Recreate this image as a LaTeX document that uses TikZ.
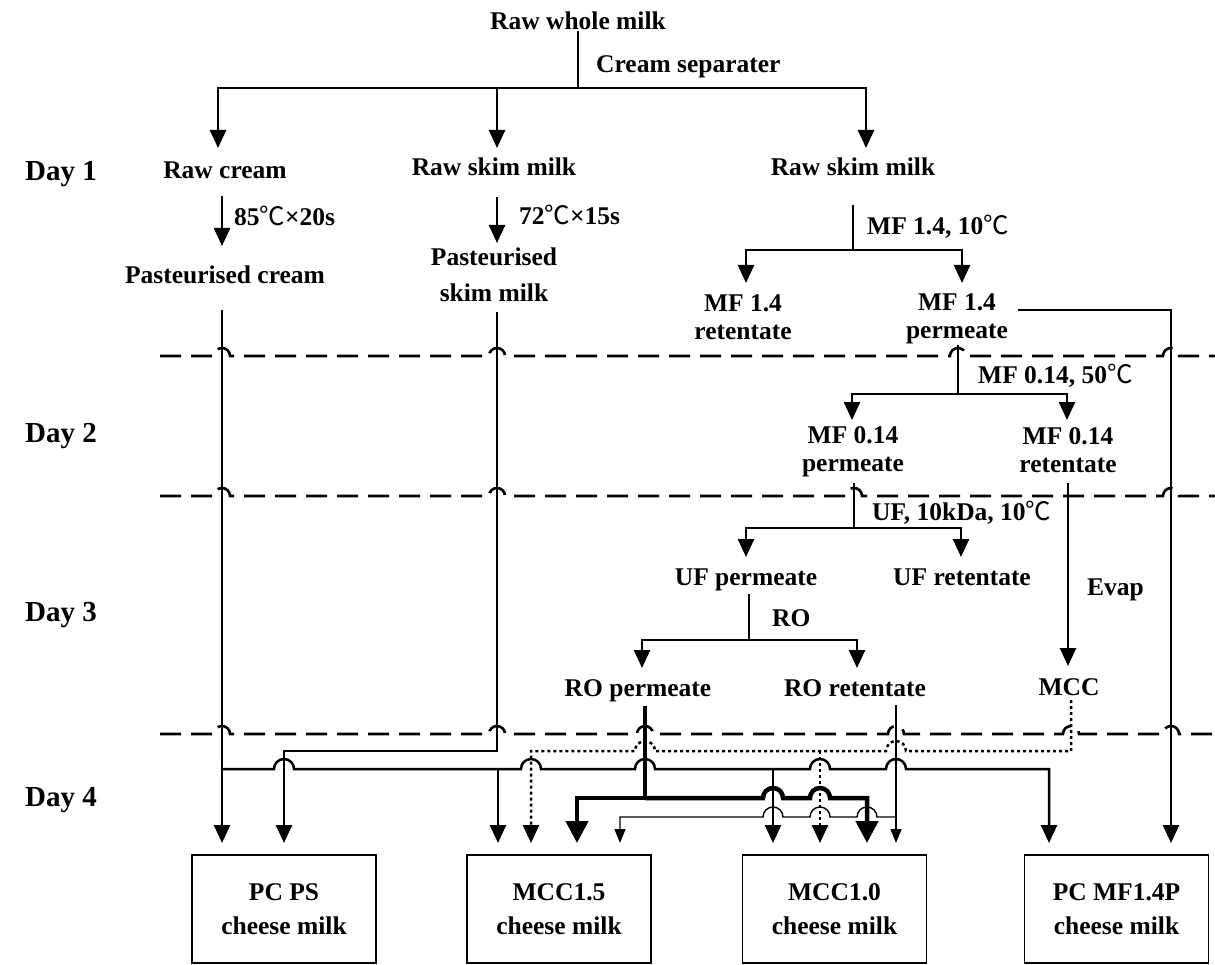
\documentclass[tikz,border=0pt]{standalone}
\usepackage{fontspec}
\setmainfont{Liberation Serif}
\newfontfamily\cjkfont{Noto Sans CJK SC}
\usetikzlibrary{arrows.meta}
\newcommand{\dC}{{\cjkfont\mdseries ℃}}
% hop over a vertical line at x=#1 on a horizontal line at y=#2
\newcommand{\hopR}[2]{-- ({#1-10},#2) arc[start angle=180,end angle=0,radius=10]}
\newcommand{\hopL}[2]{-- ({#1+10},#2) arc[start angle=0,end angle=180,radius=10]}
\newcommand{\hopD}[2]{-- ({#1-8},#2) arc[start angle=180,end angle=0,radius=8]}
\begin{document}
\begin{tikzpicture}[x=1pt,y=1pt,
  font=\fontsize{25.5}{28}\selectfont\bfseries,
  lbl/.style={inner sep=0pt,anchor=base},
  day/.style={inner sep=0pt,anchor=base west,font=\fontsize{29}{32}\selectfont\bfseries},
  ml/.style={inner sep=0pt,align=center},
  ln/.style={line width=2.5pt},
  ar/.style={ln,-{Triangle[width=16pt,length=18pt]}},
  bln/.style={line width=4.5pt},
  bar/.style={bln,-{Triangle[width=22pt,length=22pt]}},
  tln/.style={line width=1.4pt},
  tar/.style={tln,-{Triangle[width=11pt,length=14pt]}},
  dotar/.style={ar,dash pattern=on 3pt off 3pt},
  dsh/.style={line width=2.6pt,dash pattern=on 21pt off 10pt},
  cbox/.style={draw,line width=1.1pt,minimum width=184pt,minimum height=108pt,
    align=center,inner sep=0pt,font=\fontsize{25.5}{34}\selectfont\bfseries}]

\useasboundingbox (0,0) rectangle (1215,-965);

% ---------- text nodes ----------
\node[lbl] (rwm) at (578,-30) {Raw whole milk};
\node[lbl,anchor=base west] (cs) at (596,-73) {Cream separater};
\node[day] (d1) at (25,-181) {Day 1};
\node[day] (d2) at (25,-442) {Day 2};
\node[day] (d3) at (25,-621) {Day 3};
\node[day] (d4) at (25,-806) {Day 4};
\node[lbl] (rc) at (225,-179) {Raw cream};
\node[lbl] (rsm1) at (494,-176) {Raw skim milk};
\node[lbl] (rsm2) at (853,-176) {Raw skim milk};
\node[lbl,anchor=base west] (h85) at (234,-226) {85\dC×20s};
\node[lbl] (pcr) at (225,-284) {Pasteurised cream};
\node[lbl,anchor=base west] (h72) at (519,-225) {72\dC×15s};
\node[ml] (psm) at (494,-275) {Pasteurised\\[8pt]skim milk};
\node[lbl,anchor=base west] (mf14) at (867,-235) {MF 1.4, 10\dC};
\node[ml] (m14r) at (743,-317) {MF 1.4\\retentate};
\node[ml] (m14p) at (957,-319) {MF 1.4\\permeate};
\node[lbl,anchor=base west] (mf014) at (978,-383) {MF 0.14, 50\dC};
\node[ml] (m014p) at (853,-452) {MF 0.14\\permeate};
\node[ml] (m014r) at (1068,-450) {MF 0.14\\retentate};
\node[lbl,anchor=base west] (uf) at (872,-520) {UF, 10kDa, 10\dC};
\node[lbl] (ufp) at (746,-585) {UF permeate};
\node[lbl] (ufr) at (962,-585) {UF retentate};
\node[lbl,anchor=base west] (evap) at (1087,-595) {Evap};
\node[lbl,anchor=base west] (ro) at (772,-626) {RO};
\node[lbl] (rop) at (638,-696) {RO permeate};
\node[lbl] (ror) at (855,-696) {RO retentate};
\node[lbl] (mcc) at (1069,-695) {MCC};

\node[cbox] (b1) at (284,-909) {PC PS\\cheese milk};
\node[cbox] (b2) at (559,-909) {MCC1.5\\cheese milk};
\node[cbox] (b3) at (834.5,-909) {MCC1.0\\cheese milk};
\node[cbox] (b4) at (1116.5,-909) {PC MF1.4P\\cheese milk};

% ---------- junction coordinates ----------
\coordinate (j0) at (578,-88);
\coordinate (j1) at (853,-250);
\coordinate (j2) at (958,-394);
\coordinate (j3) at (854,-528);
\coordinate (j4) at (749,-640);

% ---------- day separators ----------
\draw[dsh] (160,-356) \hopD{222}{-356} \hopD{497}{-356} \hopD{958}{-356} \hopD{1171}{-356} -- (1215,-356);
\draw[dsh] (160,-496) \hopD{222}{-496} \hopD{497}{-496} \hopD{854}{-496} \hopD{1171}{-496} -- (1215,-496);
\draw[dsh] (160,-734) \hopD{222}{-734} \hopD{497}{-734} \hopD{645}{-734} \hopD{896}{-734} \hopD{1071}{-734} \hopD{1171}{-734} -- (1215,-734);

% ---------- cream separation ----------
\draw[ln] (rwm) ++(0,-10) -- (j0);
\draw[ar] (j0) -| (218,-148);
\draw[ar] (j0) -| (866,-148);
\draw[ar] (497,-88) -- (497,-148);

% ---------- pasteurisation ----------
\draw[ar] (222,-196) -- (222,-246);
\draw[ar] (497,-197) -- (497,-243);

% ---------- MF 1.4 ----------
\draw[ln] (853,-205) -- (j1);
\draw[ar] (j1) -| (746,-283);
\draw[ar] (j1) -| (962,-283);
\draw[ar] (1018,-310) -| (1171,-843);

% ---------- MF 0.14 ----------
\draw[ln] (958,-345) -- (j2);
\draw[ar] (j2) -| (852,-420);
\draw[ar] (j2) -| (1067,-420);

% ---------- UF ----------
\draw[ln] (854,-483) -- (j3);
\draw[ar] (j3) -| (746,-557);
\draw[ar] (j3) -| (961,-557);

% ---------- Evap ----------
\draw[ar] (1068,-483) -- (1068,-666);

% ---------- RO ----------
\draw[ln] (749,-594) -- (j4);
\draw[ar] (j4) -| (642,-668);
\draw[ar] (j4) -| (857,-668);

% ---------- pasteurised cream ----------
\draw[ar] (222,-310) -- (222,-843);
\draw[ar] (222,-769) \hopR{284}{-769} \hopR{531}{-769} \hopR{645}{-769} \hopR{820}{-769} \hopR{896}{-769} -- (1049,-769) -- (1049,-843);
\draw[ar] (498,-769) -- (498,-843);
\draw[ar] (773,-769) -- (773,-843);

% ---------- pasteurised skim milk ----------
\draw[ar] (497,-312) -- (497,-751) -- (284,-751) -- (284,-843);

% ---------- MCC (dotted) ----------
\draw[dotar] (1071,-700) -- (1071,-751) \hopL{896}{-751} \hopL{645}{-751} -- (531,-751) -- (531,-843);
\draw[dotar] (820,-751) -- (820,-843);

% ---------- RO permeate (bold) ----------
\draw[bln] (645,-706) -- (645,-798);
\draw[bar] (645,-798) -| (577,-843);
\draw[bar] (645,-798) \hopR{773}{-798} \hopR{820}{-798} -- (867,-798) -- (867,-843);

% ---------- RO retentate (thin) ----------
\draw[tar] (896,-705) -- (896,-843);
\draw[tar] (896,-817) \hopL{867}{-817} \hopL{820}{-817} \hopL{773}{-817} -- (620,-817) -- (620,-843);

\end{tikzpicture}
\end{document}
